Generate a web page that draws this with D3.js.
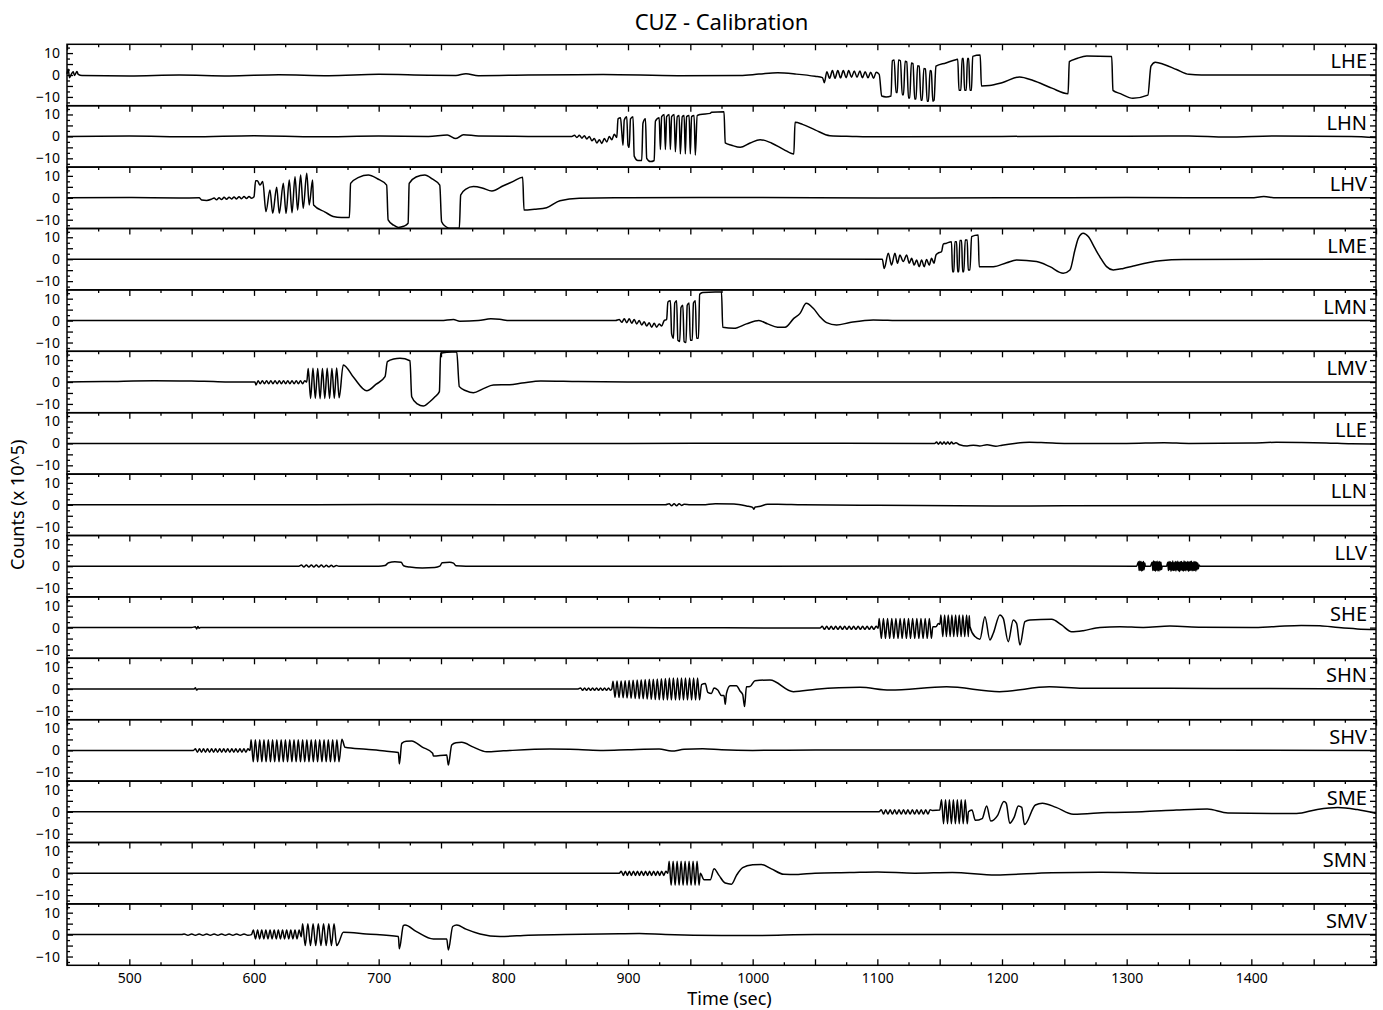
<!DOCTYPE html>
<html>
<head>
<meta charset="utf-8">
<script src="https://cdn.jsdelivr.net/npm/d3@7"></script>
<style>
  body { margin: 0; background: #fff; }
  text { font-family: "Noto Sans", sans-serif; fill: #000; }
</style>
</head>
<body>
<div id="chart_parent"></div>
<script>
// channel names, top to bottom
const channels = ['LHE', 'LHN', 'LHV', 'LME', 'LMN', 'LMV', 'LLE', 'LLN', 'LLV',
    'SHE', 'SHN', 'SHV', 'SME', 'SMN', 'SMV'];

const timeTickLabels = [500, 600, 700, 800, 900, 1000, 1100, 1200, 1300, 1400];
const countTickLabels = [-10, 0, 10];

// traces: [time (sec), counts (x 10^5)]
const lheTrace = [[450,0.5],[451,2.6],[452,-1.2],[453.5,0.4],[455,1.5],[456,-0.2],[458,1.6],[459,0.3],[462,-0.2],[500,-0.4],[540,0],[580,-0.4],[620,0.1],[660,-0.3],[700,0.3],[740,-0.1],[762,-0.2],[770,0.6],[780,-0.3],[820,0],[880,0.2],[940,-0.3],[990,-0.2],[1005,0.4],[1020,1.0],[1035,0.4],[1050,-0.6],[1056,-1.2],
    [1057.5,-3.5],[1059.5,1.5],[1061.7,-1.5],[1064,2],[1066,-1.5],[1068.3,2],[1070.5,-1.3],[1072.7,2],[1075,-1.2],[1077,2],[1079.3,-1],[1081.5,1.8],[1083.7,-1],[1086,1.8],[1088,-1.2],[1090.3,1.5],[1092.5,-1.3],[1094.7,1.3],[1097,-1.5],[1099,1.2],[1101.5,0.3],
    [1103.5,-9.6],[1107,-10],[1111,-9.6],
    [1112,6.5],[1113.5,6.8],[1115,-8],[1116,-8],[1117,6.8],[1118.5,6.5],[1120,-9],[1121,-9],[1122.3,6.3],[1123.6,6],[1125,-10.5],[1126,-10.5],[1127.3,5.5],[1128.6,5.2],[1130,-11],[1131,-11],[1132.3,4.2],[1133.6,4],[1135,-11.5],[1136,-11.5],[1137.3,3],[1138.6,2.8],[1140,-12],[1141,-12],[1142.3,2],[1143.3,1.8],[1144.5,-12],[1145.5,-11.5],
    [1147,4],[1155,5.5],[1163,7],[1164.5,7.2],[1165.5,-7],[1167,-7],[1168,7.5],[1169,7.5],[1170,-7],[1171.3,-7],[1172.3,7.5],[1173.3,7.5],[1174.3,-7],[1175.5,-7],[1176.5,8.5],[1182.5,9.1],[1183.5,-5],[1190,-4.8],[1200,-3.5],[1214,-0.9],[1225,-2.5],[1240,-6],[1253,-8.5],[1254,6.1],[1260,7.5],[1268,8.7],[1288,8.4],[1289,-7],[1295,-8.5],[1305,-10.6],[1317,-9.2],[1319.5,4],[1323,5.8],[1330,4.8],[1340,2.5],[1350,0.3],[1360,0],[1440,0],[1500,0]];

const lhnTrace = [[450,0],[500,0.2],[550,-0.2],[600,0.3],[650,-0.2],[700,0.2],[740,0],[755,0.6],[762,-1],[768,0.8],[780,0.2],[820,0],[855,0],
    [857,0.5],[859,-0.5],[861,0.5],[863,-0.8],[865,0.3],[867,-1.2],[869,0],[871,-2],[873,-1],[875,-3],[877,-1.5],[879,-3.2],[881,-1],[883,-2.5],[885,0],[887,-1.5],[889,1],[891,-0.5],
    [892,8],[894,8.5],[895,2],[896,-4],[897,7.5],[899,9],[900,-4],[901,-5],[902,8],[904,9],[905,-9],[908,-11],[911,-11],[912,6],[914,8],[915,-10],[918,-11.5],[921,-11],[922,7],[925,8.5],
    [926,-6],[927,9],[929,10],[930,-6],[931,9],[933,10],[934,-6],[935,9],[937,10],[938,-7],[939.5,9],[941,9.5],[942,-8],[943.5,9],[945,9.5],[946,-8],[947,9],[949,9.5],[950,-8],[951,9],[953,9.5],[954,-8.5],[955.5,9.5],[958,10],
    [966,10.5],[967,11],[977,11.2],[978,-3],[983,-4],[990,-5],[998,-3],[1006,-1.5],[1015,-3],[1025,-6],[1033,-8],[1034,6.4],[1040,5.5],[1050,3],[1062,0.3],[1080,0],[1100,-0.2],[1200,0],[1300,0.1],[1350,0.2],[1380,-0.3],[1420,0.2],[1480,0],[1500,-0.5]];

const lhvTrace = [[450,0],[500,0.1],[540,-0.1],[556,0],[558,-1],[562,-1.2],[566,-0.6],[568,-0.1],[570,-0.9],[572,0],[574,-0.8],[576,0.2],[578,-0.7],[580,0.3],[582,-0.5],[584,0.4],[586,-0.5],[588,0.5],[590,-0.4],[592,0.6],[594,-0.3],[596,0.6],[598,-0.2],[600,0.5],
    [601.3,7.8],[602.7,7.8],[604.8,5.8],[607,7.4],[609.6,-6.3],[612.8,3.6],[615,-7.1],[618.2,4.8],[620.3,-7.1],[623.5,6.6],[625.7,-7.1],[628.3,8.1],[630.5,-6.8],[632.9,9.6],[635,-5.6],[637.4,10.4],[639.5,-4.8],[642.3,11.2],[644.3,-3.3],[647,8.1],[647.8,-3.3],
    [657,-6.5],[663.5,-8.5],[670,-9],[676.5,-9],[677.5,6.6],[684,9.3],[691.7,10.4],[699,8.7],[706.4,5.8],[707.6,-10.1],[712,-12.5],[715.8,-13.5],[720,-13],[723.6,-11.6],[724.5,6.6],[730,9.5],[737,10.4],[743,8.6],[749,5.8],[750.5,-10.9],[754,-13.2],[757,-13.9],[764.7,-13.9],[765.8,1.3],[770,4],[776,5.1],[783,4.5],[790.8,3.1],[800,5.5],[808,7.5],[815.5,9.4],[816.6,-5.6],[825,-5.2],[834.7,-4.5],[845.4,-1.3],[861,-0.2],[900,0],[1000,0.1],[1100,-0.1],[1200,0],[1300,0.1],[1400,0],[1410,0.6],[1420,0],[1500,0]];

const lmeTrace = [[450,0],[700,0],[900,0.1],[1104,0],[1105.5,-4.2],[1108.8,2.7],[1111.4,-2.7],[1114.1,2.7],[1116.2,-1.9],[1118.1,1.9],[1120.8,-1.1],[1123.5,1.9],[1125.6,-1.9],[1127.5,0.4],[1129.6,-2.7],[1131.5,-0.4],[1133.6,-3.4],[1135.5,-0.4],[1137.6,-3.4],[1139.5,-0.1],[1141.6,-2.7],[1143.5,0.4],[1145.4,-1.9],[1147,1.9],[1148.5,2.7],[1151.5,3.4],
    [1152.9,6.9],[1155,7.2],[1159.5,8],[1160.3,-5.7],[1161.4,-5.7],[1162.2,8],[1163.6,8],[1164.4,-5.7],[1165.4,-5.7],[1166.2,8.5],[1167.6,8.5],[1168.4,-5.7],[1169.4,-5.7],[1170.5,8.8],[1172.1,8.8],[1172.9,-4.9],[1174.3,-4.9],[1175.6,10.3],[1180.9,11],[1181.7,-3.4],
    [1193,-3.4],[1203.7,-1.6],[1211.7,-0.4],[1227.7,-1.1],[1238.4,-3.4],[1249.1,-6.4],[1254.5,-4.9],[1258.5,4.2],[1261.2,9.5],[1265.2,11.8],[1269.2,10.3],[1274.5,5],[1278.5,1.1],[1283.9,-3.4],[1289.2,-4.9],[1297.3,-4.2],[1305.3,-3.1],[1326.7,-0.7],[1345.4,-0.1],[1500,0]];

const lmnTrace = [[450,0],[600,0],[750,0],[760,0.5],[765,-0.3],[780,0],[790,0.8],[797,0.6],[805,0],[890,0],
    [893,0.5],[895,-0.8],[897,0.8],[899,-1],[901,0.8],[903,-1.2],[905,0.5],[907,-1.5],[909,0],[911,-2],[913,-0.5],[915,-2.5],[917,-1],[919,-3],[921,-1.2],[923,-3],[925,-1.5],[927,-2.5],[929,0],[931,0.5],
    [932,8.5],[934,9],[935,-6],[936.5,-8],[937.5,8],[939,9],[940,-9],[941.5,-9.5],[942.5,6],[944,7],[945,-9.5],[946.5,-10],[947.5,7],[949,8],[950,-9],[951.5,-9],[952.5,8],[954,9],[955,-8],[956.5,-8],
    [957.5,12],[960,12.8],[970,13],[975,13],[976,-3],[985,-3.5],[995,-1.5],[1005,0],[1012,-1.5],[1020,-3],[1026,-3],[1033,1],[1038,3.3],[1043,7.9],[1048.6,5.6],[1053.9,1.8],[1059.3,-0.9],[1067.3,-2],[1078,-0.9],[1096.7,0.3],[1120,0],[1500,0]];

const lmvTrace = [[450,0],[480,0.2],[520,0.6],[560,0.3],[590,0],[600.8,0],
    [601.6,-1.4],[603.3,0.6],[605,-0.8],[606.7,0.6],[608.4,-0.8],[610.1,0.6],[611.8,-0.8],[613.5,0.6],[615.2,-0.8],[616.9,0.6],[618.6,-0.8],[620.3,0.6],[622,-0.8],[623.7,0.6],[625.4,-0.8],[627.1,0.6],[628.8,-0.8],[630.5,0.6],[632.2,-0.8],[633.9,0.6],[635.6,-0.8],[637.3,0.6],[639,-0.8],[640.7,0.6],[642.3,0],
    [643.5,6.2],[645.4,-7.5],[647.3,6.3],[649.2,-7.4],[651.1,6.2],[653,-7.6],[654.9,6.1],[656.8,-7.5],[658.7,6.3],[660.6,-7.5],[662.5,6.2],[664.4,-7.4],[666.3,6.4],[668.3,-7.2],
    [671.6,7.8],[680,2],[690.4,-4],[698,-1],[705.1,2.4],[707,9.3],[712,10.5],[717.1,10.8],[725.1,9.7],[726.5,-6.7],[731,-10],[735.8,-11],[741,-9],[745.2,-6.7],[748.7,-4.4],[749.7,13.1],[755,13.6],[762.6,13.8],[764.7,-2.1],[770,-4],[776,-4.9],[784,-3],[792,-1.4],[805,-1.2],[815,-0.5],[830,0.5],[860,0.2],[900,0],[1500,0]];

const lleTrace = [[450,0],[700,0],[900,0],[1000,0.1],[1146,0],[1147.5,0.6],[1149,-0.4],[1150.5,0.6],[1152,-0.4],[1153.5,0.6],[1155,-0.4],[1156.5,0.6],[1158,-0.4],[1159.5,0.6],[1161,-0.2],[1163,0.3],[1166,-0.6],[1172,-1.2],[1177,-0.8],[1182,-1.2],[1188,-0.6],[1195,-1.3],[1200,-0.8],[1210,0],[1222,0.5],[1235,0.3],[1250,0],[1300,0],[1330,0.3],[1350,0],[1400,0.2],[1420,0.5],[1440,0.4],[1460,0.2],[1480,-0.2],[1500,-0.3]];

const llnTrace = [[450,0],[600,0],[700,0.1],[930,0],[933,0.5],[935,-0.4],[937,0.5],[939,-0.4],[941,0.5],[943,-0.3],[945,0.3],[950,0],[960,0],[970,0.5],[985,0.4],[995,-0.5],[1000,-1.2],[1001,-2],[1002,-1],[1005,-0.8],[1012,0.2],[1020,0.3],[1040,0],[1100,-0.2],[1200,-0.6],[1250,-0.4],[1500,-0.3]];

const llvTrace = [[450,0],[600,0],[636,0],[638,0.5],[640,-0.4],[642,0.5],[644,-0.4],[646,0.5],[648,-0.4],[650,0.5],[652,-0.4],[654,0.5],[656,-0.4],[658,0.4],[660,-0.3],[662,0.4],[664,-0.3],[666,0.3],[668,0],[700,0],[705,0.3],[708,1.6],[713,2],[718,1.8],[720,0.2],[725,-0.4],[735,-0.8],[745,-0.6],[749,0],[751,1.6],[757,1.8],[760,1.4],[762,0.2],[770,0],[800,0],[1000,0],[1200,0.1],[1308,0],
    [1309.5,2],[1310,-2],[1310.5,2.3],[1311,-1.8],[1311.5,2.1],[1312,-2.2],[1312.5,1.8],[1313,-2],[1313.5,2.2],[1314,-1.6],[1314.5,1.5],[1315,0],[1319,0],
    [1320.5,1.8],[1321,-2],[1321.5,2.4],[1322,-1.9],[1322.5,2.2],[1323,-2.3],[1323.5,2],[1324,-1.8],[1324.5,2.3],[1325,-2.1],[1325.5,1.9],[1326,-2.2],[1326.5,2.1],[1327,-1.7],[1327.5,1.8],[1328,-1.5],[1328.5,0],[1332,0],
    [1333,1.8],[1333.5,-2],[1334,2.2],[1334.5,-1.6],[1335,2],[1335.5,-2.3],[1336,1.7],[1336.5,-1.9],[1337,2.4],[1337.5,-2],[1338,1.6],[1338.5,-1.8],[1339,2.1],[1339.5,-2.2],[1340,1.9],[1340.5,-1.7],[1341,2.3],[1341.5,-2.1],[1342,1.8],[1342.5,-2.4],[1343,2],[1343.5,-1.8],[1344,2.2],[1344.5,-2],[1345,1.7],[1345.5,-2.2],[1346,2.4],[1346.5,-1.9],[1347,2],[1347.5,-2.1],[1348,1.8],[1348.5,-1.7],[1349,2.2],[1349.5,-2.3],[1350,1.9],[1350.5,-2],[1351,2.1],[1351.5,-1.8],[1352,2.3],[1352.5,-2.1],[1353,1.7],[1353.5,-2],[1354,2.2],[1354.5,-1.9],[1355,2],[1355.5,-2.2],[1356,1.8],[1356.5,-1.6],[1357,1.5],[1357.5,-1.2],[1358,0.5],[1359,0],[1400,0],[1500,0]];

const sheTrace = [[450,0],[550,0],[553,0.4],[554,-0.6],[555,0.5],[556,-0.3],[557,0],[700,0],[900,0],[1054,-0.2],
    [1055.8,0.6],[1057.6,-0.8],[1059.4,0.6],[1061.2,-0.8],[1063,0.6],[1064.8,-0.8],[1066.6,0.6],[1068.4,-0.8],[1070.2,0.6],[1072,-0.8],[1073.8,0.6],[1075.6,-0.8],[1077.4,0.6],[1079.2,-0.8],[1081,0.6],[1082.8,-0.8],[1084.6,0.6],[1086.4,-0.8],[1088.2,0.6],[1090,-0.8],[1091.8,0.6],[1093.6,-0.8],[1095.4,0.6],[1097.2,-0.8],[1099,0.6],[1100.7,-0.3],
    [1101.5,4.2],[1103.2,-4.9],[1104.9,4.2],[1106.5,-4.9],[1108.2,4.2],[1109.9,-4.9],[1111.6,4.2],[1113.2,-4.9],[1114.9,4.2],[1116.6,-4.9],[1118.3,4.2],[1119.9,-4.9],[1121.6,4.2],[1123.3,-4.9],[1125,4.2],[1126.6,-4.9],[1128.3,4.2],[1130,-4.9],[1131.7,4.2],[1133.3,-4.9],[1135,4.2],[1136.7,-4.9],[1138.4,4.2],[1140,-4.9],[1141.7,4.2],[1143.4,-4.9],[1144.5,0.4],[1147,0.4],[1149,1.9],[1150.2,1.5],
    [1151,5.8],[1152.5,-4.1],[1154,5.8],[1155.4,-4.1],[1156.9,5.8],[1158.4,-4.1],[1159.8,5.8],[1161.3,-4.1],[1162.8,5.8],[1164.2,-4.1],[1165.7,5.8],[1167.2,-4.1],[1168.6,5.8],[1170.1,-4.1],[1171.6,5.8],[1173,-4.1],[1173.7,5.5],
    [1174.3,0.4],[1178.3,-4.1],[1182.3,-5.3],[1186.3,5],[1190.3,-5.6],[1193,-2.6],[1198.3,5.8],[1201,4.2],[1205,-6.4],[1209,3.5],[1211.7,1.9],[1214.4,-7.9],[1218.4,2.7],[1222.4,3.5],[1239.8,3.8],[1247.8,1.2],[1255.8,-1.9],[1265.2,-1.4],[1278.5,0.1],[1294.6,0.4],[1313.3,0.1],[1334.7,0.7],[1360,0.2],[1400,0],[1420,0.5],[1440,1],[1455,0.8],[1470,0],[1485,-0.6],[1500,-0.9]];

const shnTrace = [[450,0],[552,0],[553,0.6],[554,-0.5],[555,0],[860,0],
    [862,0.5],[863.6,-0.6],[865.2,0.5],[866.8,-0.6],[868.4,0.5],[870,-0.6],[871.6,0.5],[873.2,-0.6],[874.8,0.5],[876.4,-0.6],[878,0.5],[879.6,-0.6],[881.2,0.5],[882.8,-0.6],[884.4,0.5],[886,-0.6],[887,0],
    [888,3.5],[889.6,-3.8],[891.2,3.6],[892.8,-3.9],[894.5,3.7],[896.1,-4],[897.7,3.8],[899.3,-4.1],[900.9,3.9],[902.5,-4.2],[904.1,4],[905.8,-4.3],[907.4,4.1],[909,-4.4],[910.6,4.2],[912.2,-4.5],[913.8,4.3],[915.4,-4.6],[917.1,4.4],[918.7,-4.7],[920.3,4.5],[921.9,-4.8],[923.5,4.6],[925.1,-4.9],[926.8,4.7],[928.4,-5],[930,4.8],[931.6,-5],[933.2,5],[934.8,-5],[936.4,5],[938.1,-5],[939.7,5],[941.3,-5],[942.9,5],[944.5,-5],[946.1,5],[947.7,-5],[949.4,5],[951,-5],[952.6,5],[954.2,-5],[955.8,5],[957.4,-5],
    [959,2],[962,2.5],[964,-1.5],[967,-2],[969,0.5],[972,-0.5],[975,-3],[977,-3],[978,-7],[979,-2],[982,1.5],[987,1.5],[990,-1],[992,-2.5],[993.5,-8],[995,1],[997.8,1.1],[1001.8,3.8],[1013.9,4.1],[1032.6,-1.2],[1051,-0.1],[1086,0.8],[1110,-0.5],[1155.5,1],[1198,-1.2],[1238,1],[1265,0.3],[1335,0.3],[1500,0]];

const shvTrace = [[450,0],[551.4,0],
    [553,0.7],[554.6,-0.8],[556.3,0.7],[557.9,-0.8],[559.5,0.7],[561.1,-0.8],[562.7,0.7],[564.4,-0.8],[566,0.7],[567.6,-0.8],[569.2,0.7],[570.8,-0.8],[572.5,0.7],[574.1,-0.8],[575.7,0.7],[577.3,-0.8],[578.9,0.7],[580.6,-0.8],[582.2,0.7],[583.8,-0.8],[585.4,0.7],[587,-0.8],[588.7,0.7],[590.3,-0.8],[591.9,0.7],[593.5,-0.8],[595.1,0.7],[596.8,0],
    [597.7,4.8],[599.4,-5.2],[601.1,4.8],[602.9,-5.2],[604.6,4.8],[606.3,-5.2],[608,4.8],[609.7,-5.2],[611.5,4.8],[613.2,-5.2],[614.9,4.8],[616.6,-5.2],[618.3,4.8],[620.1,-5.2],[621.8,4.8],[623.5,-5.2],[625.2,4.8],[626.9,-5.2],[628.7,4.8],[630.4,-5.2],[632.1,4.8],[633.8,-5.2],[635.5,4.8],[637.3,-5.2],[639,4.8],[640.7,-5.2],[642.4,4.8],[644.1,-5.2],[645.9,4.8],[647.6,-5.2],[649.3,4.8],[651,-5.2],[652.7,4.8],[654.5,-5.2],[656.2,4.8],[657.9,-5.2],[659.6,4.8],[661.3,-5.2],[663.1,4.8],[664.8,-5.2],[666.5,4.8],[668.2,-5.2],[670.5,5.1],
    [673,1.4],[690,0.5],[705,-0.3],[715.8,-1],[716.6,-6.2],[718.5,3.2],[722,4.2],[726.5,4.3],[735,1.5],[743.3,-1.3],[743.9,-2.6],[754.6,-2.1],[755.9,-6.7],[758.6,2.5],[762,3.5],[766.6,3.7],[776,1.5],[786.6,-0.6],[800,-0.2],[837.4,0.6],[860,0.4],[880,0],[900,0.3],[925,0.6],[935,-0.3],[945,0.5],[960,0.8],[975,0.3],[1000,0],[1050,0.2],[1500,0]];

const smeTrace = [[450,0],[1101.4,0],
    [1103.2,0.9],[1105,-1],[1106.7,0.9],[1108.5,-1],[1110.3,0.9],[1112.1,-1],[1113.9,0.9],[1115.6,-1],[1117.4,0.9],[1119.2,-1],[1121,0.9],[1122.8,-1],[1124.5,0.9],[1126.3,-1],[1128.1,0.9],[1129.9,-1],[1131.7,0.9],[1133.4,-1],[1135.2,0.9],[1137,-1],[1138.8,0.9],[1140.6,-1],[1142.3,0.9],[1144.2,0.6],[1150,0.8],
    [1151.5,5.5],[1153.1,-5.5],[1154.7,5.5],[1156.3,-5.5],[1157.8,5.5],[1159.4,-5.5],[1161,5.5],[1162.6,-5.5],[1164.2,5.5],[1165.7,-5.5],[1167.3,5.5],[1168.9,-5.5],[1170.5,5.5],[1172.1,-5.5],[1173.1,0],
    [1175.9,0.8],[1178.6,-3.9],[1184.1,-3.1],[1187.7,2.7],[1191,-4.2],[1196.5,-1.6],[1201.5,4.7],[1203.4,3.9],[1206.2,-5.2],[1209.8,-2.4],[1213.1,2.7],[1215.8,2],[1218,-5.8],[1226.8,3.1],[1232.4,3.9],[1243.4,2],[1257.2,-1.1],[1284.7,-0.3],[1312.3,0],[1339.9,0.8],[1364.7,1.3],[1381.2,-0.5],[1436.3,-0.8],[1452.9,1.1],[1469.4,2],[1485,1],[1500,-0.8]];

const smnTrace = [[450,0],[880,0],[893,0],
    [894.6,0.9],[896.3,-1],[897.9,0.9],[899.5,-1],[901.1,0.9],[902.7,-1],[904.4,0.9],[906,-1],[907.6,0.9],[909.2,-1],[910.8,0.9],[912.5,-1],[914.1,0.9],[915.7,-1],[917.3,0.9],[918.9,-1],[920.6,0.9],[922.2,-1],[923.8,0.9],[925.4,-1],[927,0.9],[928.7,-1],[930.3,0.9],[932,0],
    [933,5.5],[934.6,-5.5],[936.2,5.5],[937.8,-5.5],[939.4,5.5],[941,-5.5],[942.6,5.5],[944.2,-5.5],[945.8,5.5],[947.4,-5.5],[949,5.5],[950.6,-5.5],[952.2,5.5],[953.8,-5.5],[955.4,5.5],[957,-5.5],[958,0],
    [961,-3],[966,-3],[969,2],[973,-1],[978,-4.5],[983,-5],[987,-1],[992,2.5],[1000,3.8],[1007,4],[1015,2],[1025,-0.5],[1035,-0.6],[1050,0],[1078,0.3],[1100,0.6],[1130,0],[1160,0.3],[1195,-0.8],[1240,0.2],[1280,0.4],[1330,0],[1500,0]];

const smvTrace = [[450,0],[542,0],
    [544,0.3],[547,-0.3],[550,0.3],[553,-0.3],[556,0.3],[559,-0.3],[562,0.3],[565,-0.3],[568,0.3],[571,-0.3],[574,0.3],[577,-0.3],[580,0.3],[583,-0.3],[586,0.3],[589,-0.3],[592,0.3],[595,-0.3],[598,0],
    [599.5,2.1],[601.2,-2],[602.9,2.1],[604.5,-2],[606.2,2.1],[607.9,-2],[609.5,2.1],[611.2,-2],[612.9,2.1],[614.5,-2],[616.2,2.1],[617.9,-2],[619.5,2.1],[621.2,-2],[622.9,2.1],[624.5,-2],[626.2,2.1],[627.9,-2],[629.5,2.1],[631.2,-2],[632.9,2.1],[634.5,-2],[636.2,2.1],[637.9,-1],
    [639,4.9],[641.1,-5],[643.2,4.9],[645.3,-5],[647.4,4.9],[649.5,-5],[651.6,4.9],[653.7,-5],[655.8,4.9],[657.9,-5],[660,4.9],[662.1,-5],[664.2,4.9],[666.3,-5],[667.7,-4],
    [671.7,1.1],[690,0.3],[715.8,-0.9],[716.6,-6.5],[719.8,4.1],[721.1,4.4],[730,1.5],[743.9,-2],[754.6,-2],[755.9,-7],[759.4,3.7],[762.6,4.4],[770,2.5],[781.3,0.3],[797.4,-0.9],[820,-0.3],[850,0],[893,0.4],[909,0.5],[930,0],[975,-0.4],[1000,-0.4],[1050,0],[1500,0]];

const traces = [lheTrace, lhnTrace, lhvTrace, lmeTrace, lmnTrace, lmvTrace, lleTrace, llnTrace, llvTrace,
    sheTrace, shnTrace, shvTrace, smeTrace, smnTrace, smvTrace];

const chartConfig = {
    outerWidth: 1383,
    outerHeight: 1010,
    plotLeft: 67,
    plotRight: 1376,
    plotTop: 44.3,
    panelHeight: 61.4,
    timeDomain: [450, 1500],
    countDomain: [-14, 14],
};

function initialiseChart(rootSelector, config) {
    const svg = d3.select(rootSelector).append('svg')
        .attr('width', config.outerWidth)
        .attr('height', config.outerHeight);
    svg.append('rect')
        .attr('width', config.outerWidth)
        .attr('height', config.outerHeight)
        .attr('fill', '#fff');
    return svg;
}

function styleAxis(g, width) {
    g.select('.domain').remove();
    g.selectAll('.tick line').attr('stroke', '#000').attr('stroke-width', width);
    g.selectAll('.tick text').style('font-size', '14px').attr('fill', '#000');
}

function drawPanel(svg, config, xScale, ix) {
    const top = config.plotTop + ix * config.panelHeight;
    const bottom = top + config.panelHeight;
    const yScale = d3.scaleLinear().domain(config.countDomain).range([bottom, top]);
    const panel = svg.append('g').attr('class', 'panel');

    const majorTime = d3.range(450, 1501, 50);
    const minorTime = d3.range(475, 1500, 50);
    const majorCount = [-10, -5, 0, 5, 10];
    const minorCount = [-12.5, -7.5, -2.5, 2.5, 7.5, 12.5];

    // top ticks pointing into the panel
    panel.append('g').attr('transform', `translate(0,${top})`)
        .call(d3.axisTop(xScale).tickValues(majorTime).tickSize(-6).tickFormat(''))
        .call(g => styleAxis(g, 1.3));
    panel.append('g').attr('transform', `translate(0,${top})`)
        .call(d3.axisTop(xScale).tickValues(minorTime).tickSize(-3).tickFormat(''))
        .call(g => styleAxis(g, 1.3));

    // left axis with labels, right axis plain
    panel.append('g').attr('transform', `translate(${config.plotLeft},0)`)
        .call(d3.axisLeft(yScale).tickValues(majorCount).tickSize(-6).tickPadding(7)
            .tickFormat(d => (countTickLabels.includes(d) ? (d < 0 ? '\u2212' + Math.abs(d) : d) : '')))
        .call(g => styleAxis(g, 1.3));
    panel.append('g').attr('transform', `translate(${config.plotLeft},0)`)
        .call(d3.axisLeft(yScale).tickValues(minorCount).tickSize(-3).tickFormat(''))
        .call(g => styleAxis(g, 1.3));
    panel.append('g').attr('transform', `translate(${config.plotRight},0)`)
        .call(d3.axisRight(yScale).tickValues(majorCount).tickSize(-6).tickFormat(''))
        .call(g => styleAxis(g, 1.3));
    panel.append('g').attr('transform', `translate(${config.plotRight},0)`)
        .call(d3.axisRight(yScale).tickValues(minorCount).tickSize(-3).tickFormat(''))
        .call(g => styleAxis(g, 1.3));

    if (ix === channels.length - 1) {
        panel.append('g').attr('transform', `translate(0,${bottom})`)
            .call(d3.axisBottom(xScale).tickValues(majorTime).tickSize(-6).tickPadding(8)
                .tickFormat(d => (timeTickLabels.includes(d) ? d : '')))
            .call(g => styleAxis(g, 1.3));
        panel.append('g').attr('transform', `translate(0,${bottom})`)
            .call(d3.axisBottom(xScale).tickValues(minorTime).tickSize(-3).tickFormat(''))
            .call(g => styleAxis(g, 1.3));
    }

    const line = d3.line()
        .x(d => xScale(d[0]))
        .y(d => yScale(d[1]))
        .curve(d3.curveMonotoneX);

    panel.append('path')
        .datum(traces[ix])
        .attr('fill', 'none')
        .attr('stroke', '#000')
        .attr('stroke-width', 1.5)
        .attr('stroke-linejoin', 'round')
        .attr('d', line);

    panel.append('rect')
        .attr('x', config.plotLeft)
        .attr('y', top)
        .attr('width', config.plotRight - config.plotLeft)
        .attr('height', config.panelHeight)
        .attr('fill', 'none')
        .attr('stroke', '#000')
        .attr('stroke-width', 1.5);

    panel.append('text')
        .attr('x', config.plotRight - 9)
        .attr('y', top + 24)
        .attr('text-anchor', 'end')
        .style('font-size', '20px')
        .text(channels[ix]);
}

function drawChart(svg, config) {
    const xScale = d3.scaleLinear()
        .domain(config.timeDomain)
        .range([config.plotLeft, config.plotRight]);

    channels.forEach((name, ix) => drawPanel(svg, config, xScale, ix));

    svg.append('text')
        .attr('x', (config.plotLeft + config.plotRight) / 2)
        .attr('y', 30)
        .attr('text-anchor', 'middle')
        .style('font-size', '22px')
        .text('CUZ - Calibration');

    svg.append('text')
        .attr('x', (config.plotLeft + config.plotRight) / 2 + 8)
        .attr('y', 1005)
        .attr('text-anchor', 'middle')
        .style('font-size', '18px')
        .text('Time (sec)');

    const midY = config.plotTop + channels.length * config.panelHeight / 2;
    svg.append('text')
        .attr('transform', `translate(24,${midY}) rotate(-90)`)
        .attr('text-anchor', 'middle')
        .style('font-size', '18px')
        .text('Counts (x 10^5)');
}

const chart = initialiseChart('#chart_parent', chartConfig);
drawChart(chart, chartConfig);
</script>
</body>
</html>
